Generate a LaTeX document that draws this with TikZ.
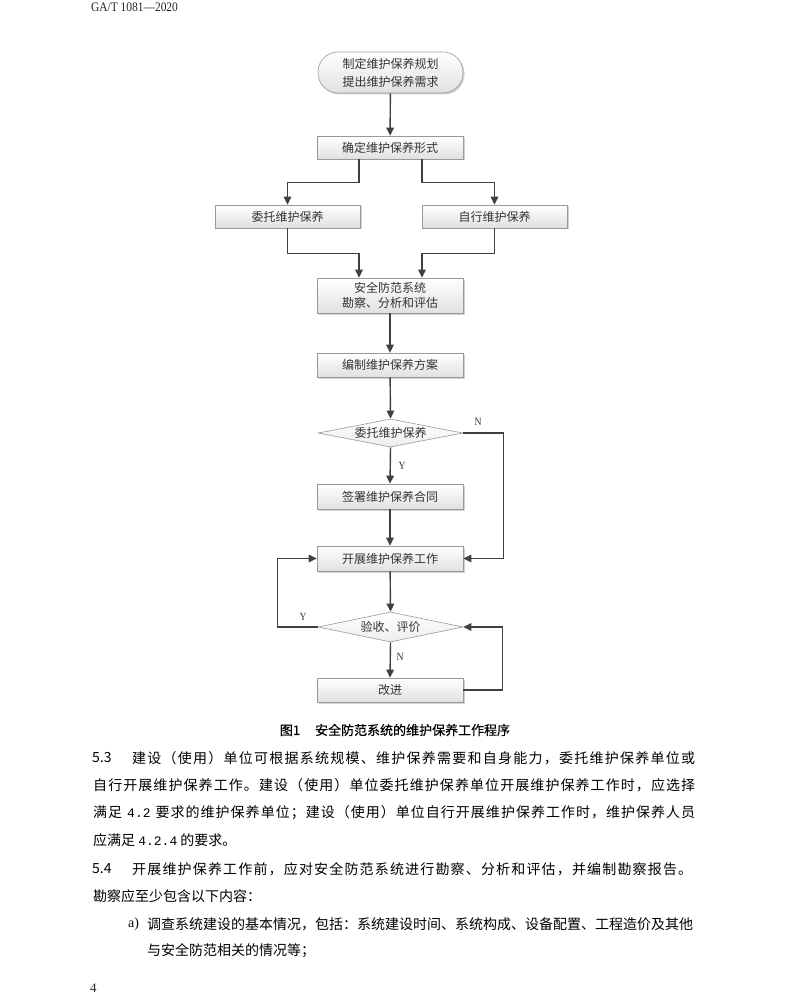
\documentclass[tikz,border=0pt]{standalone}
\usepackage{fontspec}
\setmainfont{Liberation Serif}
\newfontfamily\cjk{Noto Sans CJK SC}
\newfontfamily\cjkcap[FakeBold=0.5]{Noto Sans CJK SC}
\newfontfamily\hdrfont[FakeStretch=0.88]{Liberation Serif}
\newfontfamily\monofnt{Liberation Mono}
\usetikzlibrary{arrows.meta,shapes.geometric,shadows,calc}
\def\spreadfirst#1{#1\spreadloop}
\def\spreadloop#1{\ifx\relax#1\else\hfil#1\expandafter\spreadloop\fi}
\newcommand\spreadline[2]{\hbox to #1{\spreadfirst#2\relax}}
\begin{document}
\begin{tikzpicture}[x=1pt,y=-1pt,
  box/.style={draw=black!40, line width=0.6pt, top color=white, bottom color=black!12,
    minimum width=146pt, minimum height=24pt, inner sep=0pt,
    font=\cjk\fontsize{12pt}{15.5pt}\selectfont, text=black!80, align=center,
    drop shadow={shadow xshift=1.5pt,shadow yshift=-1.5pt,fill=black!40,opacity=0.45}},
  dia/.style={diamond, aspect=5.2, draw=black!40, line width=0.6pt, top color=white, bottom color=black!7,
    minimum width=145pt, minimum height=28pt, inner sep=0pt,
    font=\cjk\fontsize{12pt}{15pt}\selectfont, text=black!80},
  conn/.style={draw=black!75, line width=1.4pt, -{Triangle[length=8pt,width=7.5pt]}},
  lab/.style={font=\hdrfont\fontsize{11pt}{11pt}\selectfont, text=black!80, inner sep=0pt},
  body/.style={font=\cjk\fontsize{14pt}{16pt}\selectfont, inner sep=0pt, anchor=west}
]
\fill[white] (0,0) rectangle (794,1000);
\useasboundingbox (0,0) rectangle (794,1000);

% header and page number
\node[anchor=west, font=\hdrfont\fontsize{13pt}{13pt}\selectfont, inner sep=0pt, text=black!85] (hdr) at (91,7) {GA/T 1081—2020};
\node[anchor=west, font=\fontsize{13pt}{13pt}\selectfont, inner sep=0pt, text=black!85] (pg) at (90,988) {4};

% flowchart nodes
\node[box, rounded corners=20pt, minimum width=145pt, minimum height=41pt, font=\cjk\fontsize{12pt}{18pt}\selectfont] (start) at (390.5,72.5) {制定维护保养规划\\提出维护保养需求};
\node[box, minimum height=23pt] (form) at (390,147.5) {确定维护保养形式};
\node[box, minimum width=145pt, minimum height=23pt] (wt) at (287.5,216.5) {委托维护保养};
\node[box, minimum width=145pt, minimum height=23pt] (zx) at (494.5,216.5) {自行维护保养};
\node[box, minimum height=35pt] (survey) at (390,295.5) {安全防范系统\\勘察、分析和评估};
\node[box] (plan) at (390,365) {编制维护保养方案};
\node[dia] (d1) at (390.5,433) {委托维护保养};
\node[box, minimum height=25pt] (sign) at (390,496.5) {签署维护保养合同};
\node[box, minimum height=25pt] (work) at (390,558.5) {开展维护保养工作};
\node[dia, minimum height=30pt] (d2) at (390.5,627) {验收、评价};
\node[box] (imp) at (390,690) {改进};

% connectors
\draw[conn] (start) -- (form);
\draw[conn] ([xshift=-31pt]form.south) -- ++(0,23) -| (wt.north);
\draw[conn] ([xshift=32pt]form.south) -- ++(0,23) -| (zx.north);
\draw[conn] (wt.south) -- ++(0,25) -| ([xshift=-31pt]survey.north);
\draw[conn] (zx.south) -- ++(0,25) -| ([xshift=32pt]survey.north);
\draw[conn] (survey) -- (plan);
\draw[conn] (plan) -- (d1.north);
\draw[conn] (d1.south) -- (sign.north);
\draw[conn] (d1.east) -- ++(40,0) |- (work.east);
\draw[conn] (sign) -- (work);
\draw[conn] (work) -- (d2.north);
\draw[conn] (d2.west) -- ++(-40,0) |- (work.west);
\draw[conn] (d2.south) -- (imp.north);
\draw[conn] (imp.east) -- ++(39,0) |- (d2.east);

% Y/N labels
\node[lab] (n1) at (478,422) {N};
\node[lab] (y1) at (402,466) {Y};
\node[lab] (y2) at (303,617) {Y};
\node[lab] (n2) at (400,657) {N};

% caption
\node[font=\cjkcap\fontsize{13pt}{15pt}\selectfont, inner sep=0pt] (cap) at (395,730) {图1\hspace{15pt}安全防范系统的维护保养工作程序};

% body text
\node[body] (s53) at (92,758) {5.3};
\node[body] (l1) at (132,758) {\spreadline{563pt}{建设（使用）单位可根据系统规模、维护保养需要和自身能力，委托维护保养单位或}};
\node[body] (l2) at (93,785.5) {\spreadline{602pt}{自行开展维护保养工作。建设（使用）单位委托维护保养单位开展维护保养工作时，应选择}};
\node[body] (l3) at (93,813) {\hbox to 602pt{\spreadfirst 满足\relax\hfil\hspace{4pt}{\monofnt\fontsize{13pt}{16pt}\selectfont 4.2}\hspace{4pt}\hfil\spreadfirst 要求的维护保养单位；建设（使用）单位自行开展维护保养工作时，维护保养人员\relax}};
\node[body] (l4) at (93,840.5) {应满足 {\monofnt\fontsize{13pt}{16pt}\selectfont 4.2.4} 的要求。};
\node[body] (s54) at (92,869) {5.4};
\node[body] (l5) at (132,869) {\spreadline{560pt}{开展维护保养工作前，应对安全防范系统进行勘察、分析和评估，并编制勘察报告。}};
\node[body] (l6) at (93,896.5) {勘察应至少包含以下内容：};
\node[body, font=\fontsize{14pt}{16pt}\selectfont] (la) at (128,924) {a)};
\node[body] (l7) at (147,924) {调查系统建设的基本情况，包括：系统建设时间、系统构成、设备配置、工程造价及其他};
\node[body] (l8) at (147,951) {与安全防范相关的情况等；};
\end{tikzpicture}
\end{document}
